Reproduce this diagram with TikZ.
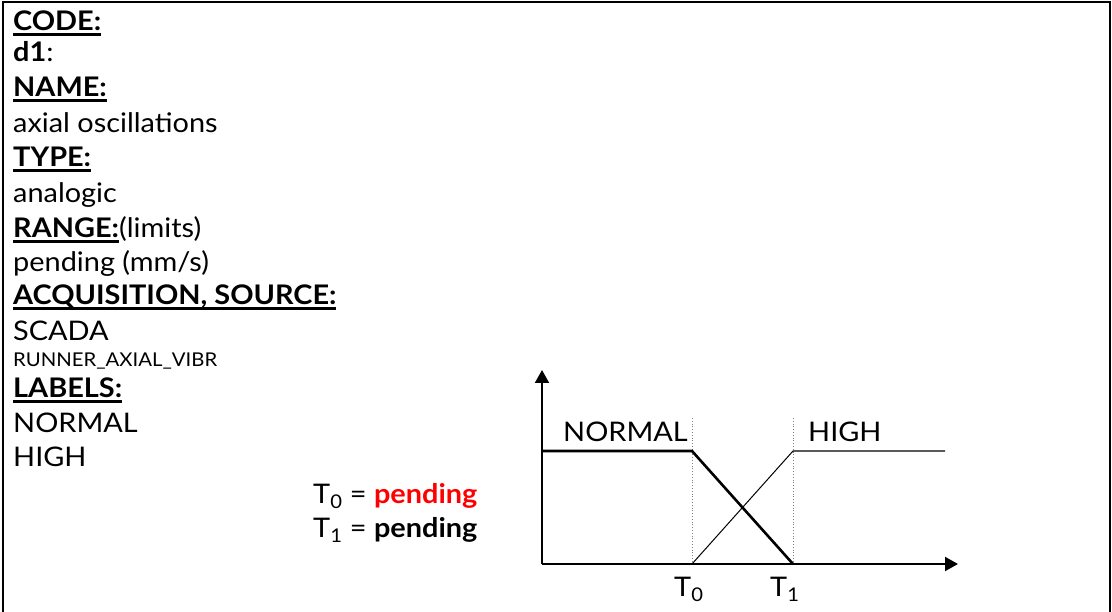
\documentclass[tikz,border=0pt]{standalone}
\usepackage{fontspec}
\setmainfont{Lato}[FakeStretch=1.07]
\usetikzlibrary{arrows.meta}
\newcommand\myul[1]{\setbox0\hbox{#1}\rlap{\rule[-5.5pt]{\wd0}{3pt}}\box0}
\begin{document}
\begin{tikzpicture}[x=1pt,y=-1pt,
  txt/.style={anchor=base west, inner sep=0pt, font=\fontsize{27}{32}\selectfont},
  small/.style={anchor=base west, inner sep=0pt, font=\fontsize{19}{23}\selectfont},
  axis/.style={line width=2pt, -{Triangle[length=13pt,width=14pt]}},
  thick line/.style={line width=2.6pt},
  thin line/.style={line width=1pt},
  guide/.style={gray, dotted, line width=0.8pt}]
\useasboundingbox (0,0) rectangle (1112,612);
% frame
\draw[line width=2pt] (3,612) -- (3,2) -- (1110,2) -- (1110,612);
% left column text
\node[txt] (code) at (13,31) {\bfseries\myul{CODE:}};
\node[txt] (d1) at (13,62) {\textbf{d1}:};
\node[txt] (name) at (13,97) {\bfseries\myul{NAME:}};
\node[txt] (namev) at (13,133) {axial oscillations};
\node[txt] (type) at (13,167) {\bfseries\myul{TYPE:}};
\node[txt] (typev) at (13,203) {analogic};
\node[txt] (range) at (13,238) {\textbf{\myul{RANGE:}}(limits)};
\node[txt] (rangev) at (13,272) {pending (mm/s)};
\node[txt] (acq) at (13,305) {\bfseries\myul{ACQUISITION, SOURCE:}};
\node[txt] (acqv) at (13,341) {SCADA};
\node[small] (tag) at (13,367) {RUNNER\_AXIAL\_VIBR};
\node[txt] (labels) at (13,398) {\bfseries\myul{LABELS:}};
\node[txt] (l1) at (13,432) {NORMAL};
\node[txt] (l2) at (13,467) {HIGH};
% thresholds
\node[txt] (t0) at (313,503) {T\textsubscript{0} = \textcolor{red}{\bfseries pending}};
\node[txt] (t1) at (313,537) {T\textsubscript{1} = \textbf{pending}};
% chart
\coordinate (O) at (542,564);
\coordinate (ytip) at (542,370);
\coordinate (xtip) at (958,564);
\coordinate (n0) at (542,451);
\coordinate (a) at (692,451);
\coordinate (b) at (793,564);
\coordinate (c) at (692,564);
\coordinate (d) at (793,451);
\coordinate (e) at (945,451);
\coordinate (ga) at (692,418);
\coordinate (gb) at (793,418);
\draw[guide] (ga) -- (c);
\draw[guide] (gb) -- (b);
\draw[axis] (O) -- (ytip);
\draw[axis] (O) -- (xtip);
\draw[thick line] (n0) -- (a) -- (b);
\draw[thin line] (c) -- (d) -- (e);
\node[txt] (normal) at (563,442) {NORMAL};
\node[txt] (high) at (808,442) {HIGH};
\node[txt] (T0) at (674,596) {T\textsubscript{0}};
\node[txt] (T1) at (770,596) {T\textsubscript{1}};
\end{tikzpicture}
\end{document}
